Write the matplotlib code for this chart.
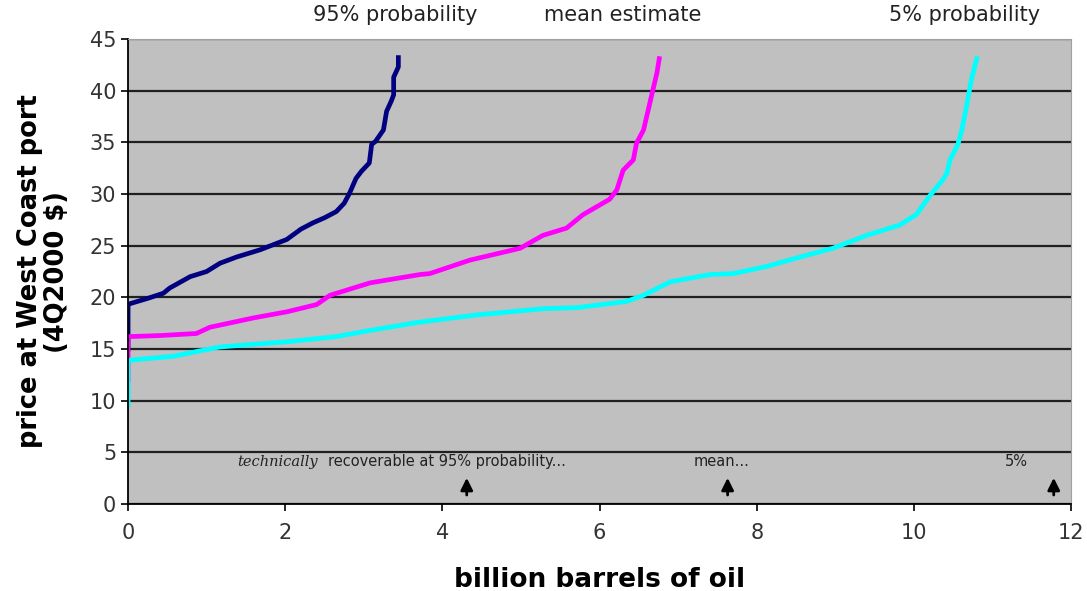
import matplotlib
matplotlib.use('Agg')
from matplotlib import pyplot as plt

# curves: billion barrels vs price
p95_x = [0, 0, 0.03, 0.25, 0.45, 0.53, 0.79, 1.0, 1.17, 1.38, 1.68, 2.02, 2.2, 2.35,
         2.5, 2.65, 2.75, 2.82, 2.9, 2.97, 3.07, 3.1, 3.15, 3.25, 3.29, 3.35, 3.38,
         3.38, 3.44, 3.44]
p95_y = [15.0, 19.3, 19.4, 19.9, 20.4, 20.9, 22.0, 22.5, 23.3, 23.9, 24.6, 25.6, 26.6, 27.2,
         27.7, 28.3, 29.1, 30.1, 31.5, 32.2, 33.0, 34.8, 35.1, 36.2, 38.0, 39.0, 39.6,
         41.3, 42.3, 43.2]

mean_x = [0, 0, 0.4, 0.87, 1.04, 1.59, 2.02, 2.4, 2.57, 3.08, 3.71, 3.84, 4.35, 4.99,
          5.28, 5.58, 5.79, 6.13, 6.22, 6.3, 6.43, 6.47, 6.56, 6.64, 6.68, 6.73, 6.76]
mean_y = [12.0, 16.2, 16.3, 16.5, 17.1, 18.0, 18.6, 19.3, 20.2, 21.4, 22.2, 22.3, 23.6, 24.75,
          26.0, 26.7, 28.0, 29.5, 30.4, 32.3, 33.3, 34.9, 36.2, 38.8, 40.1, 41.7, 43.1]

p5_x = [0, 0, 0.58, 0.87, 1.17, 2.02, 2.65, 3.08, 3.71, 4.44, 5.28, 5.71, 6.34, 6.56,
        6.9, 7.4, 7.7, 8.13, 8.55, 8.97, 9.4, 9.82, 10.03, 10.2, 10.37, 10.42, 10.46,
        10.56, 10.61, 10.67, 10.73, 10.8]
p5_y = [9.6, 13.9, 14.3, 14.75, 15.2, 15.7, 16.2, 16.8, 17.6, 18.3, 18.9, 19.0, 19.6, 20.2,
        21.5, 22.2, 22.3, 23.0, 23.9, 24.75, 26.0, 27.0, 28.0, 29.8, 31.4, 32.0, 33.3,
        34.8, 36.2, 38.5, 41.0, 43.1]

series_labels = ['95% probability', 'mean estimate', '5% probability']
label_x = [3.40, 6.30, 10.64]
arrow_x = [4.31, 7.63, 11.78]

fig = plt.figure(figsize=(10.87, 5.91), dpi=100)
ax = fig.add_axes([0.1178, 0.1472, 0.8675, 0.7868])
ax.set_facecolor('#c0c0c0')

ax.plot(p95_x, p95_y, color='#000080', lw=3.4, solid_joinstyle='round')
ax.plot(mean_x, mean_y, color='#ff00ff', lw=3.4, solid_joinstyle='round')
ax.plot(p5_x, p5_y, color='#00ffff', lw=3.4, solid_joinstyle='round')

ax.set_xlim(0, 12)
ax.set_ylim(0, 45)
ax.set_xticks(range(0, 13, 2))
ax.set_yticks(range(0, 46, 5))
ax.grid(axis='y', color='#202020', lw=1.6)
ax.set_axisbelow(True)
ax.tick_params(labelsize=15, labelcolor='#333333', direction='out', length=5, width=1.2)
ax.tick_params(axis='x', pad=9)
for s in ['top', 'right']:
    ax.spines[s].set_color('#a0a0a0')
for s in ['left', 'bottom']:
    ax.spines[s].set_linewidth(1.3)

ax.set_xlabel('billion barrels of oil', fontsize=19, fontweight='bold', labelpad=17)
ax.set_ylabel('price at West Coast port\n(4Q2000 $)', fontsize=18.5, fontweight='bold',
              linespacing=1.05, labelpad=14)

for lab, lx in zip(series_labels, label_x):
    ax.text(lx, 47.3, lab, ha='center', va='center', fontsize=15, color='#222222',
            clip_on=False)

# recoverable annotations near the bottom
ax.text(1.39, 4.1, 'technically', fontsize=10.5, family='DejaVu Serif', style='italic',
        va='center', color='#222222')
ax.text(2.54, 4.1, 'recoverable at 95% probability...', fontsize=10.5, va='center',
        color='#222222')
ax.text(7.2, 4.1, 'mean...', fontsize=10.5, va='center', color='#222222')
ax.text(11.16, 4.1, '5%', fontsize=10.5, va='center', color='#222222')
for ax_x in arrow_x:
    ax.annotate('', xy=(ax_x, 2.8), xytext=(ax_x, 0.6),
                arrowprops=dict(arrowstyle='-|>', color='black', lw=2,
                                mutation_scale=18))

fig.savefig('out.png', dpi=100)
